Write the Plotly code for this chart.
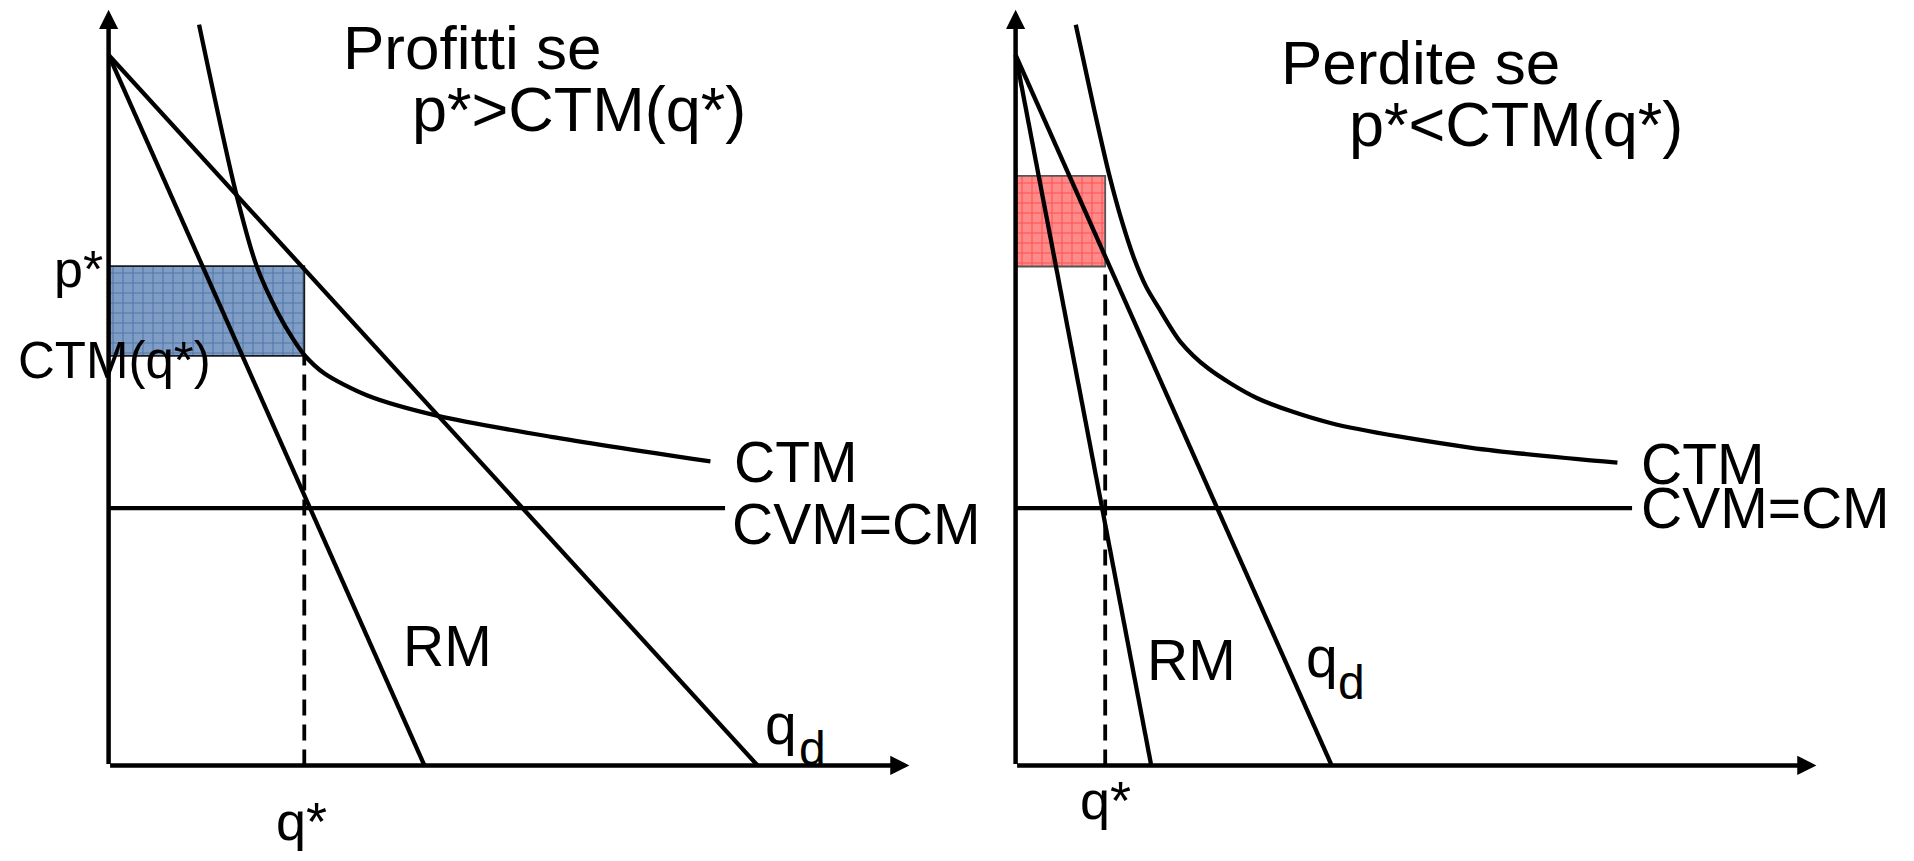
import plotly.graph_objects as go

# ---------------- data (economic units: quantity q, price p) ----------------
# Left panel: profits
L_demand_q = [0, 53.16]
L_demand_p = [58.2, 0]
L_rm_q = [0, 25.87]
L_rm_p = [58.2, 0]
L_ctm_q = [7.41, 10.42, 12.13, 13.9, 15.13, 16.05, 17.69, 21.2, 26.97, 36.25, 49.3]
L_ctm_p = [60.68, 46.95, 40.9, 37.0, 34.9, 33.6, 32.1, 30.3, 28.63, 26.92, 24.9]
L_cvm_q = [0, 50.5]
L_cvm_level = 21.07
L_q_star = 16.03
L_p_star = 40.9
L_ctm_star = 33.55

# Right panel: losses
R_demand_q = [0, 25.89]
R_demand_p = [58.2, 0]
R_rm_q = [0, 11.11]
R_rm_p = [58.2, 0]
R_ctm_q = [4.93, 6.4, 7.69, 8.7, 9.7, 10.7, 11.71, 13.5, 15.74, 19.75, 25.79, 37.35, 49.3]
R_ctm_p = [60.67, 53.9, 48.3, 44.6, 41.55, 39.2, 37.5, 34.7, 32.55, 30.1, 28.05, 26.02, 24.8]
R_cvm_q = [0, 50.5]
R_cvm_level = 21.07
R_q_star = 7.34
R_p_star = 40.87
R_ctm_star = 48.3

AXIS_Q_MAX = 65.6
AXIS_P_MAX = 61.9

FONT = "Liberation Sans, Arial, sans-serif"
BLACK = "#000000"
LW = 4.3

fig = go.Figure()


def add_panel(xa, ya, dq, dp, rq, rp, cq, cp, cvq, cvl, qs, ps, cs, profit):
    lo, hi = (cs, ps) if profit else (ps, cs)
    if profit:
        pat = dict(shape="+", fgcolor="#1d4d8c", bgcolor="#809dc6", size=10, solidity=0.2)
        border = "#1a1a1a"
        fillc = "#809dc6"
    else:
        pat = dict(shape="+", fgcolor="#ff1a1a", bgcolor="#ff8a8a", size=10, solidity=0.2)
        border = "#555555"
        fillc = "#ff8a8a"
    fig.add_trace(go.Scatter(
        x=[0, qs, qs, 0, 0], y=[lo, lo, hi, hi, lo], mode="lines", fill="toself",
        fillcolor=fillc, fillpattern=pat, line=dict(color=border, width=1.8),
        xaxis=xa, yaxis=ya, hoverinfo="skip", showlegend=False))
    # CVM = CM
    fig.add_trace(go.Scatter(x=cvq, y=[cvl, cvl], mode="lines",
                             line=dict(color=BLACK, width=LW), xaxis=xa, yaxis=ya,
                             showlegend=False, hoverinfo="skip"))
    # demand
    fig.add_trace(go.Scatter(x=dq, y=dp, mode="lines",
                             line=dict(color=BLACK, width=LW), xaxis=xa, yaxis=ya,
                             showlegend=False, hoverinfo="skip"))
    # RM
    fig.add_trace(go.Scatter(x=rq, y=rp, mode="lines",
                             line=dict(color=BLACK, width=LW), xaxis=xa, yaxis=ya,
                             showlegend=False, hoverinfo="skip"))
    # CTM
    fig.add_trace(go.Scatter(x=cq, y=cp, mode="lines",
                             line=dict(color=BLACK, width=LW, shape="spline", smoothing=0.8),
                             xaxis=xa, yaxis=ya, showlegend=False, hoverinfo="skip"))
    # dashed q*
    fig.add_trace(go.Scatter(x=[qs, qs], y=[0, lo], mode="lines",
                             line=dict(color=BLACK, width=3.8, dash="16px,9px"),
                             xaxis=xa, yaxis=ya, showlegend=False, hoverinfo="skip"))


add_panel("x", "y", L_demand_q, L_demand_p, L_rm_q, L_rm_p, L_ctm_q, L_ctm_p,
          L_cvm_q, L_cvm_level, L_q_star, L_p_star, L_ctm_star, True)
add_panel("x2", "y2", R_demand_q, R_demand_p, R_rm_q, R_rm_p, R_ctm_q, R_ctm_p,
          R_cvm_q, R_cvm_level, R_q_star, R_p_star, R_ctm_star, False)

ann = []
# axes arrows
for xr, yr in (("x", "y"), ("x2", "y2")):
    for (tx, ty) in ((0, AXIS_P_MAX), (AXIS_Q_MAX, 0)):
        ann.append(dict(x=tx, y=ty, ax=0, ay=0, xref=xr, yref=yr, axref=xr, ayref=yr,
                        text="", showarrow=True, arrowhead=2, arrowsize=0.85,
                        arrowwidth=4.5, arrowcolor=BLACK, standoff=0, startstandoff=0))


def txt(text, x, y, xr, yr, size, xanchor="left", xshift=0, yshift=0):
    ann.append(dict(text=text, x=x, y=y, xref=xr, yref=yr, showarrow=False,
                    xanchor=xanchor, yanchor="middle", xshift=xshift, yshift=yshift,
                    font=dict(family=FONT, size=size, color=BLACK)))


W, H = 1898, 845  # page body has an 8px margin


def px(X):
    return (X - 8) / W


def py(Y):
    return 1 - (Y - 8) / H


# titles (paper coords)
txt("Profitti se", px(341), py(47.2), "paper", "paper", 62)
txt("p*>CTM(q*)", px(410), py(109.3), "paper", "paper", 63)
txt("Perdite se", px(1279), py(62), "paper", "paper", 62)
txt("p*<CTM(q*)", px(1347), py(124.1), "paper", "paper", 63)

# left labels
txt("CTM", L_ctm_q[-1], L_ctm_p[-1], "x", "y", 57, xshift=22, yshift=-1)
txt("CVM=CM", L_cvm_q[-1], L_cvm_level, "x", "y", 57, xshift=5, yshift=-16)
txt("RM", 23.95, 9.77, "x", "y", 57)
txt("q", 53.6, 3.43, "x", "y", 57)
txt("d", 56.37, 1.39, "x", "y", 48)
txt("p*", 0, L_p_star, "x", "y", 52, xanchor="right", xshift=-4, yshift=-3)
txt("CTM(q*)", -7.59, 33.19, "x", "y", 51)
txt("q*", L_q_star, -4.99, "x", "y", 54, xanchor="center", xshift=-3, yshift=5)

# right labels
txt("CTM", R_ctm_q[-1], R_ctm_p[-1], "x2", "y2", 57, xshift=22, yshift=-1)
txt("CVM=CM", R_cvm_q[-1], R_cvm_level, "x2", "y2", 57, xshift=7, yshift=0)
txt("RM", 10.6, 8.61, "x2", "y2", 57)
txt("q", 23.98, 8.35, "x2", "y2", 57, xshift=-4, yshift=6)
txt("d", 26.57, 6.31, "x2", "y2", 48, xshift=-4, yshift=6)
txt("CTM(q*)", -16.84, 46.83, "x2", "y2", 51)
txt("p*", -6.87, 42.47, "x2", "y2", 52)
txt("q*", R_q_star, -2.87, "x2", "y2", 54, xanchor="center")

hidden = dict(visible=False, showgrid=False, zeroline=False, fixedrange=True)
fig.update_layout(
    width=W, height=H, autosize=False,
    margin=dict(l=0, r=0, t=0, b=0, pad=0),
    paper_bgcolor="white", plot_bgcolor="white",
    xaxis=dict(domain=[0, 0.5], range=[-8.241, 69.50], anchor="y", **hidden),
    yaxis=dict(domain=[0, 1], range=[-7.176, 62.045], anchor="x", **hidden),
    xaxis2=dict(domain=[0.5, 1], range=[-4.80, 72.94], anchor="y2", **hidden),
    yaxis2=dict(domain=[0, 1], range=[-7.176, 62.045], anchor="x2", **hidden),
    annotations=ann,
    showlegend=False,
)

fig.write_html("out.html")
